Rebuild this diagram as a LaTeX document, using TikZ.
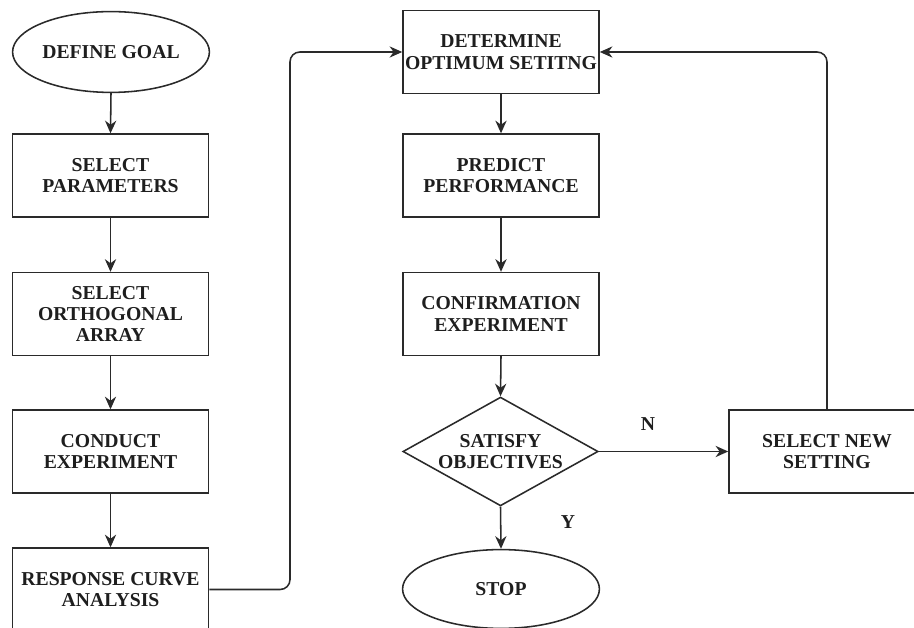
\documentclass[tikz,border=0pt]{standalone}
\usepackage{fontspec}
\setmainfont{Liberation Serif}
\usetikzlibrary{arrows.meta, shapes.geometric}
\definecolor{LineGray}{HTML}{2A2A2A}
\definecolor{TextDark}{HTML}{1E1E1E}
\newcommand{\boxfont}{\bfseries\fontsize{14}{15.2}\selectfont}
\tikzset{
    procbox/.style={
        draw=LineGray,
        line width=1.1pt,
        fill=white,
        minimum width=4.9cm,
        minimum height=2.07cm,
        inner sep=1pt,
        align=center,
        font=\boxfont,
        text=TextDark
    },
    termnode/.style={
        procbox,
        ellipse,
        inner sep=0pt,
        minimum width=4.92cm,
        minimum height=2.02cm
    },
    decnode/.style={
        procbox,
        diamond,
        inner sep=0pt,
        aspect=1.8,
        minimum width=4.88cm,
        minimum height=2.72cm
    },
    flow/.style={
        draw=LineGray,
        line width=1.1pt,
        -{Stealth[length=9pt,width=8pt]}
    },
    tag/.style={font=\boxfont, text=TextDark}
}

\begin{document}
\begin{tikzpicture}[x=0.025cm, y=-0.025cm]
\useasboundingbox (0,0) rectangle (914,628);
\clip (0,0) rectangle (914,628);

% left column
\node[termnode] (goal) at (111,52) {DEFINE GOAL};
\node[procbox] (params) at (110.5,175.5) {SELECT\\PARAMETERS};
\node[procbox] (ortho) at (110.5,314) {SELECT\\ORTHOGONAL\\ARRAY};
\node[procbox] (conduct) at (110.5,451.5) {CONDUCT\\EXPERIMENT};
\node[procbox] (response) at (110.5,589.5) {RESPONSE CURVE\\ANALYSIS};

% middle column
\node[procbox] (determine) at (501,52) {DETERMINE\\OPTIMUM SETITNG};
\node[procbox] (predict) at (501,175.5) {PREDICT\\PERFORMANCE};
\node[procbox] (confirm) at (501,314) {CONFIRMATION\\EXPERIMENT};
\node[decnode] (decide) at (500.5,451.5) {SATISFY\\OBJECTIVES};
\node[termnode, minimum height=1.97cm] (stop) at (501,589) {STOP};

% right
\node[procbox] (newset) at (827,451.5) {SELECT NEW\\SETTING};
\coordinate (turnA) at (290,52);

\draw[flow] (goal.south) -- (params.north);
\draw[flow] (params.south) -- (ortho.north);
\draw[flow] (ortho.south) -- (conduct.north);
\draw[flow] (conduct.south) -- (response.north);
\draw[flow, rounded corners=7pt] (response.east) -| (turnA) -- (determine.west);

\draw[flow] (determine.south) -- (predict.north);
\draw[flow] (predict.south) -- (confirm.north);
\draw[flow] (confirm.south) -- (decide.north);
\draw[flow] (decide.south) -- node[tag, pos=0.36, xshift=1.68cm] (ymark) {Y} (stop.north);
\draw[flow] (decide.east) -- node[tag, pos=0.38, yshift=0.68cm] (nmark) {N} (newset.west);
\draw[flow, rounded corners=7pt] (newset.north) |- (determine.east);
\end{tikzpicture}
\end{document}
